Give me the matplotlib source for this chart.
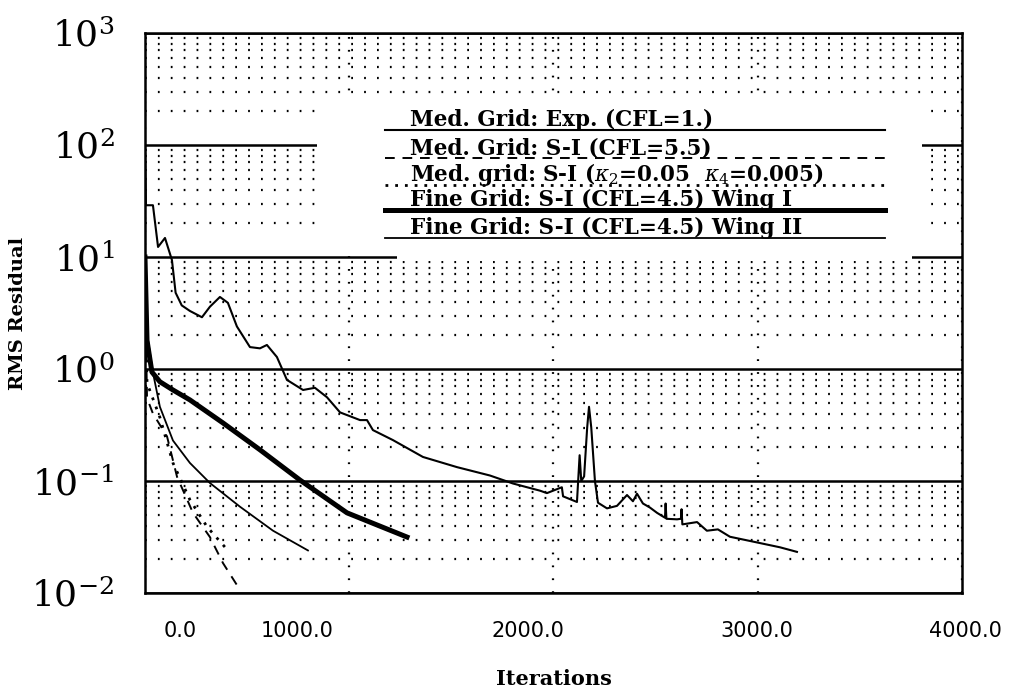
import matplotlib
matplotlib.use('Agg')
import matplotlib.pyplot as plt
import matplotlib.transforms as mtransforms
from matplotlib.ticker import LogLocator, NullFormatter
from matplotlib.patches import Rectangle

plt.rcParams['font.family'] = 'DejaVu Serif'
plt.rcParams['mathtext.fontset'] = 'dejavuserif'

# Med. grid, explicit (CFL=1.)
exp_it = [0, 5, 39, 64, 98, 132, 150, 180, 220, 279, 318, 367, 406, 450, 514, 563, 597,
          646, 695, 774, 832, 891, 955, 1053, 1087, 1116, 1214, 1361, 1528, 1689, 1802,
          1934, 1968, 2041, 2047, 2115, 2128, 2136, 2150, 2165, 2174, 2185, 2203, 2218,
          2262, 2311, 2360, 2389, 2409, 2438, 2472, 2507, 2546, 2549, 2553, 2605, 2624,
          2627, 2631, 2703, 2751, 2805, 2864, 2996, 3109, 3192]
exp_res = [100, 29, 29, 12.3, 14.8, 9.4, 4.8, 3.7, 3.3, 2.9, 3.6, 4.4, 3.9, 2.4, 1.57, 1.53, 1.64,
           1.28, 0.80, 0.65, 0.68, 0.56, 0.41, 0.35, 0.35, 0.285, 0.232, 0.164, 0.133, 0.112, 0.095,
           0.082, 0.078, 0.088, 0.073, 0.065, 0.17, 0.10, 0.11, 0.30, 0.46, 0.30, 0.10, 0.064,
           0.057, 0.060, 0.075, 0.066, 0.077, 0.063, 0.058, 0.052, 0.047, 0.063, 0.046, 0.0455, 0.046,
           0.056, 0.041, 0.043, 0.036, 0.037, 0.0318, 0.0283, 0.0256, 0.0233]

# Med. grid, S-I (CFL=5.5)
si_it = [0, 10, 39, 108, 157, 235, 318, 382, 450]
si_res = [6.0, 0.55, 0.40, 0.25, 0.109, 0.052, 0.0316, 0.0185, 0.0118]

# Med. grid, S-I with kappa2/kappa4
kap_it = [0, 10, 73, 137, 220, 304, 406]
kap_res = [6.0, 0.75, 0.37, 0.145, 0.068, 0.039, 0.024]

# Fine grid, S-I (CFL=4.5), wing I
w1_it = [0, 10, 34, 73, 137, 220, 382, 563, 759, 989, 1283]
w1_res = [10, 1.8, 0.94, 0.77, 0.65, 0.53, 0.33, 0.19, 0.102, 0.052, 0.0316]

# Fine grid, S-I (CFL=4.5), wing II
w2_it = [0, 15, 39, 73, 137, 220, 318, 465, 627, 798]
w2_res = [8, 1.8, 0.93, 0.46, 0.23, 0.145, 0.096, 0.059, 0.036, 0.024]

legend_labels = ['Med. Grid: Exp. (CFL=1.)',
                 'Med. Grid: S-I (CFL=5.5)',
                 r'Med. grid: S-I ($\kappa_2$=0.05  $\kappa_4$=0.005)',
                 'Fine Grid: S-I (CFL=4.5) Wing I',
                 'Fine Grid: S-I (CFL=4.5) Wing II']

xticks = [0, 1000, 2000, 3000, 4000]
xtick_labels = ['0.0', '1000.0', '2000.0', '3000.0', '4000.0']
yticks = [1e-2, 1e-1, 1e0, 1e1, 1e2, 1e3]
ytick_labels = [r'$10^{-2}$', r'$10^{-1}$', r'$10^{0}$', r'$10^{1}$', r'$10^{2}$', r'$10^{3}$']

fig = plt.figure(figsize=(10.26, 6.94), dpi=100)
ax = fig.add_axes([0.1413, 0.1455, 0.7963, 0.8069])
ax.set_yscale('log')
ax.set_xlim(0, 4000)
ax.set_ylim(1e-2, 1e3)

styles = [dict(color='k', lw=1.5, ls='-'),
          dict(color='k', lw=1.4, ls=(0, (5, 4))),
          dict(color='k', lw=2.0, ls=(0, (1, 2.5))),
          dict(color='k', lw=3.6, ls='-'),
          dict(color='k', lw=1.3, ls='-')]

series = [(exp_it, exp_res), (si_it, si_res), (kap_it, kap_res), (w1_it, w1_res), (w2_it, w2_res)]
for (xs, ys), st in zip(series, styles):
    ax.plot(xs, ys, zorder=3, solid_joinstyle='round', **st)

# grid: solid decades, dotted sub-decades, dotted verticals
ax.yaxis.set_minor_locator(LogLocator(base=10, subs=range(2, 10)))
ax.yaxis.set_minor_formatter(NullFormatter())
ax.set_axisbelow(True)
ax.grid(which='major', axis='y', color='k', lw=1.8, ls='-')
ax.grid(which='minor', axis='y', color='k', lw=1.6, ls=(0, (0.8, 5)))
ax.grid(which='major', axis='x', color='k', lw=1.6, ls=(0, (0.8, 5)))

# legend block, erases the grid behind it
ax.add_patch(Rectangle((0.2105, 0.6125), 0.7405, 0.268, transform=ax.transAxes,
                       facecolor='white', edgecolor='none', zorder=1.5))
ax.add_patch(Rectangle((0.3084, 0.5929), 0.6304, 0.02, transform=ax.transAxes,
                       facecolor='white', edgecolor='none', zorder=1.5))
line_y = [0.8268, 0.7768, 0.7286, 0.6839, 0.6339]
for lab, st, yy in zip(legend_labels, styles, line_y):
    ax.plot([0.2938, 0.9058], [yy, yy], transform=ax.transAxes, zorder=4, **st)
    ax.text(0.3244, yy + 0.007, lab, transform=ax.transAxes, fontsize=15.5,
            fontweight='bold', va='baseline', ha='left', zorder=5)

ax.set_xticks(xticks)
ax.set_xticklabels(xtick_labels, fontsize=15, family='DejaVu Sans')
ax.set_yticks(yticks)
ax.set_yticklabels(ytick_labels, fontsize=26)
ax.tick_params(which='both', length=0)
ax.tick_params(axis='x', pad=20)
ax.tick_params(axis='y', pad=22)

# shift x tick labels sideways
shifts = [35, -52, -26, -1, 3]
for lbl, dx in zip(ax.get_xticklabels(), shifts):
    off = mtransforms.ScaledTranslation(dx / 100.0, 0, fig.dpi_scale_trans)
    lbl.set_transform(lbl.get_transform() + off)

for sp in ax.spines.values():
    sp.set_linewidth(1.8)
    sp.set_zorder(6)

ax.set_xlabel('Iterations', fontsize=15, fontweight='bold', labelpad=20)
ax.set_ylabel('RMS Residual', fontsize=14, fontweight='bold', labelpad=4)
ax.yaxis.set_label_coords(-0.145, 0.5)

fig.savefig('out.png', dpi=100)
